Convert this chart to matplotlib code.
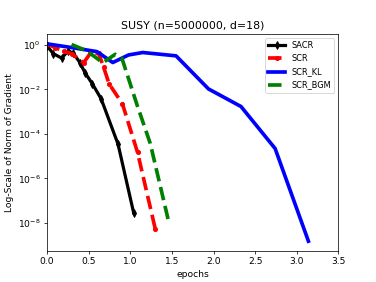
import numpy as np
import matplotlib
matplotlib.use("Agg")
import matplotlib.pyplot as plt
from matplotlib.ticker import NullLocator

# SACR
sacr_x = [0, 0.075, 0.175, 0.255, 0.315, 0.395, 0.455, 0.545, 0.65, 0.853, 1.04]
sacr_log = [-0.04, -0.39, -0.59, -0.27, -0.37, -0.79, -1.24, -1.75, -2.42, -4.46, -7.54]
# SCR
scr_x = [0, 0.1, 0.2, 0.3, 0.44, 0.52, 0.62, 0.68, 0.746, 0.906, 1.087, 1.3]
scr_log = [0.05, -0.12, -0.28, -0.4, -0.8, -0.38, -0.38, -1.0, -1.75, -2.65, -4.83, -8.27]
# SCR_KL
kl_x = [0, 0.3, 0.6, 0.79, 0.98, 1.15, 1.55, 1.94, 2.33, 2.74, 3.14]
kl_log = [0.05, -0.12, -0.3, -0.79, -0.45, -0.34, -0.49, -1.98, -2.77, -4.66, -8.83]
# SCR_BGM
bgm_x = [0.295, 0.48, 0.67, 0.82, 0.9, 1.08, 1.24, 1.46]
bgm_log = [0.02, -0.27, -0.8, -0.42, -0.6, -2.68, -4.43, -7.93]

DPI = 65.8
fig = plt.figure(figsize=(376 / DPI, 282 / DPI), dpi=DPI)
ax = fig.add_subplot(111)

ax.semilogy(sacr_x, 10.0 ** np.array(sacr_log), color='black', lw=3.5,
            marker='d', ms=6, label='SACR')
ax.semilogy(scr_x, 10.0 ** np.array(scr_log), color='red', lw=4, ls='--',
            marker='o', ms=4.5, label='SCR')
ax.semilogy(kl_x, 10.0 ** np.array(kl_log), color='blue', lw=4, label='SCR_KL')
ax.semilogy(bgm_x, 10.0 ** np.array(bgm_log), color='green', lw=4, ls='--',
            label='SCR_BGM')

ax.set_xlim(0, 3.5)
ax.set_ylim(10 ** -9.27, 10 ** 0.5)
ax.set_yticks([1e0, 1e-2, 1e-4, 1e-6, 1e-8])
ax.yaxis.set_minor_locator(NullLocator())
ax.set_xlabel('epochs')
ax.set_ylabel('Log-Scale of Norm of Gradient')
ax.set_title('SUSY (n=5000000, d=18)')
ax.legend(loc='upper right', fontsize=9, handlelength=2)

fig.savefig('out.png', dpi=DPI)
